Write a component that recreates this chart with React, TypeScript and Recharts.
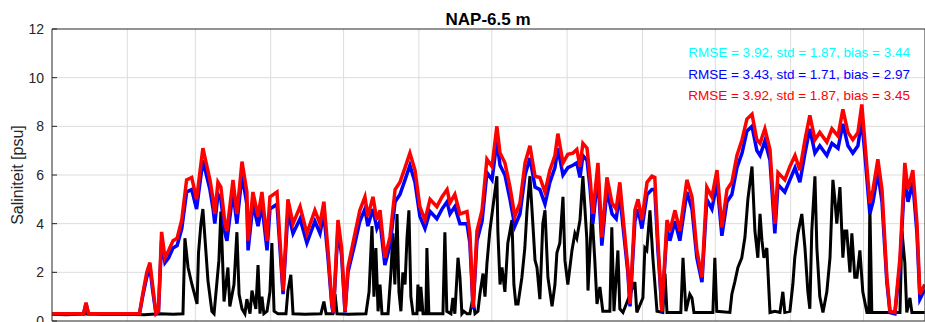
import React from 'react';
import { LineChart, Line, XAxis, YAxis, ReferenceLine } from 'recharts';

// day of year, month boundaries as in the reference grid
const monthTicks = [0, 31, 59, 90, 120, 151, 181, 212, 243, 273, 304, 334];
const salinityTicks = [0, 2, 4, 6, 8, 10, 12];
const dayDomain: [number, number] = [0, 359.3];

const statsText = [
    { color: '#00ffff', text: 'RMSE = 3.92, std = 1.87, bias = 3.44' },
    { color: '#0000ff', text: 'RMSE = 3.43, std = 1.71, bias = 2.97' },
    { color: '#ff0000', text: 'RMSE = 3.92, std = 1.87, bias = 3.45' },
];

// model output (day of year)
const modelDays = [
    0, 13, 14, 15, 36, 37.5, 39, 40.3, 41.5, 42.8,
    43.8, 45.1, 46.5, 48, 49.8, 51.5, 53.4, 55.4, 57.5, 59.5,
    62.1, 65, 66.3, 67, 68.3, 69.5, 71.2, 72, 74.5, 76.1,
    78.2, 80.2, 80.7, 82.7, 84.8, 86.4, 88.5, 89.7, 92.6, 95.1,
    97.1, 99.2, 102.1, 104.9, 108.2, 110.3, 111.9, 113.6, 115.2, 115.8,
    117.7, 119.2, 120.6, 121.8, 124.7, 126.7, 128.8, 130, 132.1, 133.7,
    135, 137, 139.1, 141.2, 143.2, 145.3, 147.3, 149.4, 151.4, 153.5,
    155.6, 158.4, 160.5, 162.6, 163.8, 165.8, 167.9, 170.8, 172, 173.3,
    174.9, 177, 179, 181.1, 183.1, 184.4, 186.4, 188.5, 190.5, 192.6,
    194.7, 196.7, 198.8, 200.8, 202.9, 204.9, 207, 208.2, 210.3, 212.3,
    214.4, 216, 217.3, 218.5, 220.2, 221.4, 222.6, 224.7, 226.3, 228.4,
    230.5, 232.2, 233.7, 235, 237, 237.9, 239.9, 241.2, 242.8, 244.9,
    246.9, 248.1, 249.4, 250.2, 251, 253.1, 254.3, 256.4, 258.4, 261.3,
    263.4, 265.4, 267.5, 269.5, 271.6, 273.7, 275.7, 277.8, 279.8, 281.9,
    284, 286, 288.1, 290.1, 291.4, 293.4, 295.5, 297.5, 298.8, 301.6,
    303.7, 305.8, 307.8, 309.9, 311.9, 314, 316, 318.9, 321, 323.5,
    325.5, 327.6, 329.6, 331.7, 333.3, 334.6, 336.6, 337.9, 339.9, 341.6,
    343.6, 344.9, 346.9, 349, 351, 352.3, 354.3, 356, 357.2, 359.2,
];

const blueValues = [
    0.3, 0.3, 0.7, 0.3, 0.3, 1.1, 1.8, 2.2, 1.2, 0.3,
    0.35, 3.3, 2.4, 2.6, 3.0, 3.1, 3.8, 5.3, 5.4, 4.6,
    6.6, 5.4, 4.6, 4.0, 5.2, 5.0, 3.6, 3.3, 5.3, 4.0,
    6.0, 4.8, 2.9, 4.8, 3.9, 4.8, 2.9, 4.6, 4.8, 1.1,
    4.5, 3.6, 4.2, 3.2, 4.1, 3.6, 4.4, 2.6, 0.6, 0.3,
    3.8, 2.7, 0.35, 2.0, 3.2, 4.1, 4.6, 3.9, 4.6, 3.8,
    4.1, 2.3, 3.1, 4.9, 5.2, 5.8, 6.4, 5.7, 4.3, 3.8,
    4.5, 4.2, 4.6, 4.9, 4.4, 4.7, 4.0, 4.0, 3.2, 0.5,
    3.3, 4.1, 6.1, 5.8, 7.4, 6.4, 6.0, 5.0, 3.9, 4.4,
    6.0, 6.7, 5.5, 5.4, 4.8, 5.7, 6.3, 7.1, 6.0, 6.3,
    6.4, 6.5, 5.9, 6.8, 6.6, 5.5, 4.0, 6.0, 3.1, 5.4,
    4.4, 4.2, 5.2, 3.9, 2.0, 0.6, 4.1, 4.6, 3.8, 5.2,
    5.4, 5.4, 2.9, 1.7, 0.35, 3.8, 3.3, 4.1, 3.3, 5.3,
    4.6, 2.6, 1.6, 5.0, 4.6, 5.7, 3.5, 4.9, 5.2, 6.3,
    6.9, 7.8, 8.0, 7.0, 6.8, 7.4, 6.6, 3.6, 5.6, 5.3,
    5.8, 6.3, 5.7, 6.9, 7.9, 6.9, 7.2, 6.8, 7.3, 7.1,
    8.1, 7.2, 6.9, 7.2, 8.3, 6.8, 4.4, 4.9, 6.1, 4.9,
    1.6, 0.35, 0.3, 2.3, 6.0, 4.9, 5.7, 3.6, 0.9, 1.3,
];

const redValues = [
    0.3, 0.3, 0.75, 0.3, 0.3, 1.2, 2.0, 2.4, 1.4, 0.3,
    0.4, 3.66, 2.6, 2.9, 3.3, 3.4, 4.15, 5.8, 5.9, 5.0,
    7.1, 5.8, 5.0, 4.4, 5.7, 5.5, 4.0, 3.7, 5.8, 4.4,
    6.55, 5.3, 3.3, 5.3, 4.3, 5.3, 3.3, 5.1, 5.3, 1.25,
    5.0, 4.0, 4.7, 3.6, 4.55, 4.0, 4.9, 2.9, 0.7, 0.35,
    4.15, 3.0, 0.4, 2.2, 3.6, 4.55, 5.1, 4.3, 5.1, 4.15,
    4.55, 2.6, 3.45, 5.4, 5.7, 6.3, 6.9, 6.2, 4.7, 4.15,
    5.0, 4.7, 5.1, 5.4, 4.85, 5.2, 4.4, 4.5, 3.6, 0.55,
    3.7, 4.55, 6.65, 6.35, 8.0, 6.9, 6.5, 5.5, 4.3, 4.85,
    6.5, 7.2, 5.95, 5.9, 5.3, 6.2, 6.8, 7.7, 6.5, 6.85,
    6.9, 7.05, 6.35, 7.3, 7.1, 5.95, 4.4, 6.5, 3.45, 5.9,
    4.85, 4.6, 5.7, 4.3, 2.2, 0.7, 4.55, 5.0, 4.15, 5.7,
    5.95, 5.9, 3.2, 1.9, 0.4, 4.15, 3.7, 4.55, 3.7, 5.8,
    5.1, 2.9, 1.8, 5.5, 5.1, 6.2, 3.85, 5.4, 5.7, 6.8,
    7.45, 8.3, 8.5, 7.45, 7.3, 7.9, 7.05, 4.0, 6.1, 5.8,
    6.35, 6.8, 6.2, 7.45, 8.45, 7.45, 7.75, 7.35, 7.9, 7.6,
    8.7, 7.75, 7.45, 7.75, 8.9, 7.3, 4.85, 5.4, 6.65, 5.4,
    1.8, 0.4, 0.35, 2.6, 6.5, 5.4, 6.2, 4.0, 1.1, 1.5,
];

// measurements: [day of year, salinity psu]
const observed: [number, number][] = [
    [0, 0.28], [6, 0.26], [14, 0.3], [22, 0.27], [30, 0.28], [38, 0.26], [44, 0.3], [50, 0.28],
    [53.9, 0.3], [54.7, 3.4], [56, 2.2], [57.6, 1.5], [59.7, 0.7], [60.3, 2.8], [61.3, 4.0], [62.1, 4.6],
    [64.2, 1.65], [65.8, 0.4], [66.7, 0.3], [68.7, 2.5], [69.5, 4.5], [70.8, 0.8], [72.4, 2.2], [73.2, 0.6],
    [74.9, 1.5], [76.1, 3.65], [77, 1.1], [78.2, 0.5], [79.4, 0.3], [80.2, 0.9], [81.5, 0.3], [82.3, 1.25],
    [83.9, 0.5], [84.8, 2.3], [85.6, 0.3], [86.4, 1.0], [87.2, 0.3], [88.5, 0.4], [89.7, 1.2], [90.5, 3.2],
    [91.4, 0.4], [93, 0.3], [96.3, 0.3], [97.1, 1.25], [98.3, 1.9], [99.2, 0.3], [104, 0.28], [110.7, 0.3],
    [111.9, 0.8], [112.8, 0.3], [115.6, 0.3], [116.5, 1.1], [117.3, 0.3], [122, 0.28], [129.2, 0.3], [130.5, 1.2],
    [131.7, 3.9], [132.5, 1.0], [133.3, 3.0], [134.2, 0.4], [135, 1.5], [135.8, 0.3], [138.3, 0.3], [139.5, 2.0],
    [140.3, 3.6], [141.1, 1.5], [142, 4.4], [142.8, 1.2], [143.6, 0.4], [144.4, 2.0], [145.3, 1.5], [146.1, 3.4],
    [146.9, 4.55], [147.7, 1.0], [148.6, 0.3], [150.2, 0.3], [150.6, 1.5], [151.4, 0.4], [151.8, 1.4], [152.7, 0.3],
    [153.9, 0.3], [154.3, 3.0], [155.1, 0.3], [160.9, 0.3], [161.7, 3.65], [162.5, 0.4], [164.2, 0.3], [165, 0.95],
    [165.8, 0.3], [167.1, 2.6], [167.9, 1.8], [168.7, 0.3], [169.5, 0.4], [170.8, 0.3], [172, 0.3], [173.2, 0.95],
    [174.1, 0.3], [175.3, 0.4], [176.1, 1.1], [177.4, 1.95], [178.2, 1.0], [179, 2.35], [180.2, 3.7], [181.5, 4.7],
    [183.1, 5.95], [183.5, 3.7], [184.4, 1.5], [185.2, 2.2], [186.4, 1.2], [187.6, 3.2], [189.3, 4.15], [190.1, 1.5],
    [190.9, 0.7], [191.8, 0.7], [193.4, 1.8], [194.6, 3.0], [195.5, 4.55], [196.7, 5.95], [197.9, 4.0], [198.8, 2.5],
    [199.6, 2.2], [200.8, 0.9], [202, 4.0], [202.9, 4.55], [204.1, 1.8], [205.8, 0.6], [207, 1.5], [207.8, 2.8],
    [209, 3.2], [210.3, 5.1], [211.1, 2.5], [212.3, 1.5], [214, 2.9], [215.2, 3.6], [216, 3.4], [217.3, 4.15],
    [218.5, 5.95], [220.1, 3.4], [220.6, 1.25], [222.2, 4.55], [223.4, 2.5], [224.3, 0.7], [225.5, 1.4], [226.7, 0.4],
    [228.8, 0.4], [229.6, 0.4], [230.4, 3.85], [231.3, 0.4], [232.9, 2.9], [233.7, 0.5], [235, 0.35], [239.9, 1.6],
    [240.7, 0.35], [243.2, 0.95], [244, 3.0], [244.8, 2.9], [246.1, 4.55], [247.3, 2.6], [249, 0.4], [251.4, 0.35],
    [252.3, 1.95], [253.1, 0.35], [258.8, 0.35], [259.7, 2.6], [260.9, 0.4], [262.5, 1.1], [263.4, 0.95], [264.2, 0.35],
    [272, 0.35], [272.8, 2.6], [273.6, 0.4], [279, 0.35], [279.8, 1.1], [281, 1.6], [282.3, 2.2], [283.9, 2.6],
    [285.2, 3.45], [286.4, 5.0], [288.1, 6.35], [289.3, 3.7], [290.5, 2.6], [291.4, 4.4], [292.2, 3.3], [293, 2.6],
    [294.2, 3.0], [295.5, 0.35], [297.5, 0.4], [299.6, 0.35], [300.8, 1.2], [301.6, 0.35], [303.7, 0.4], [304.9, 1.5],
    [305.7, 2.6], [307, 3.6], [308.6, 4.4], [309.9, 3.0], [311.1, 1.2], [311.9, 0.5], [312.7, 3.7], [314, 5.95],
    [314.8, 3.0], [316, 1.0], [317.3, 0.35], [318.9, 1.2], [320.2, 2.6], [321.4, 5.8], [322.2, 5.0], [323, 4.0],
    [324.3, 5.5], [325.5, 2.6], [326.3, 3.7], [327.1, 3.7], [328.4, 2.0], [329.2, 3.6], [330.4, 1.8], [331.3, 1.8],
    [332.5, 2.9], [333.7, 1.2], [335.4, 0.35], [336.2, 0.35], [336.6, 4.8], [337.4, 0.35], [343, 0.35], [349, 0.35],
    [349.8, 3.7], [351, 2.4], [351.8, 0.35], [353.1, 0.95], [353.9, 0.35], [359.2, 0.35],
];

const axisColor = '#262626';
const gridColor = '#dcdcdc';
const font = '"Liberation Sans", Arial, Helvetica, sans-serif';

export default function App() {
    const obsData = observed.map(([day, value]) => ({ day, value }));
    const blueData = modelDays.map((day, i) => ({ day, value: blueValues[i] }));
    const redData = modelDays.map((day, i) => ({ day, value: redValues[i] }));

    return (
        <div style={{ position: 'relative', width: 925, height: 322, fontFamily: font, background: '#fff' }}>
            <style>{'body{margin:0}'}</style>
            <LineChart width={925} height={322} margin={{ top: 29, right: 0, bottom: 1, left: 0 }}>
                <XAxis
                    dataKey="day"
                    type="number"
                    domain={dayDomain}
                    ticks={monthTicks}
                    allowDataOverflow
                    height={1}
                    mirror
                    tick={false}
                    tickSize={5}
                    stroke={axisColor}
                />
                <XAxis
                    xAxisId="top"
                    orientation="top"
                    dataKey="day"
                    type="number"
                    domain={dayDomain}
                    ticks={monthTicks}
                    allowDataOverflow
                    height={1}
                    mirror
                    tick={false}
                    tickSize={5}
                    stroke={axisColor}
                />
                <YAxis
                    type="number"
                    domain={[0, 12]}
                    ticks={salinityTicks}
                    interval={0}
                    width={52}
                    tickSize={-5}
                    tickMargin={13}
                    stroke={axisColor}
                    tick={{ fill: axisColor, fontSize: 14, fontFamily: font }}
                />
                <YAxis
                    yAxisId="right"
                    orientation="right"
                    type="number"
                    domain={[0, 12]}
                    ticks={salinityTicks}
                    width={1}
                    mirror
                    tick={false}
                    tickSize={5}
                    stroke={axisColor}
                />
                {monthTicks.slice(1).map((d) => (
                    <ReferenceLine key={'v' + d} x={d} stroke={gridColor} strokeWidth={1} />
                ))}
                {salinityTicks.slice(1, -1).map((v) => (
                    <ReferenceLine key={'h' + v} y={v} stroke={gridColor} strokeWidth={1} />
                ))}
                <Line
                    data={obsData}
                    dataKey="value"
                    type="linear"
                    stroke="#000000"
                    strokeWidth={3}
                    dot={false}
                    isAnimationActive={false}
                />
                <Line
                    data={blueData}
                    dataKey="value"
                    type="linear"
                    stroke="#0000ff"
                    strokeWidth={3.5}
                    dot={false}
                    isAnimationActive={false}
                />
                <Line
                    data={redData}
                    dataKey="value"
                    type="linear"
                    stroke="#ff0000"
                    strokeWidth={3.5}
                    dot={false}
                    isAnimationActive={false}
                />
            </LineChart>

            <div
                style={{
                    position: 'absolute',
                    top: 11,
                    left: 52,
                    width: 872,
                    textAlign: 'center',
                    fontSize: 17,
                    lineHeight: '17px',
                    fontWeight: 'bold',
                    color: '#000',
                }}
            >
                NAP-6.5 m
            </div>

            <div
                style={{
                    position: 'absolute',
                    left: 18,
                    top: 175,
                    transform: 'translate(-50%, -50%) rotate(-90deg)',
                    whiteSpace: 'nowrap',
                    fontSize: 16,
                    color: axisColor,
                }}
            >
                Saliniteit [psu]
            </div>

            {statsText.map((s, i) => (
                <div
                    key={i}
                    style={{
                        position: 'absolute',
                        right: 15,
                        top: 46 + i * 21.7,
                        fontSize: 13.5,
                        lineHeight: '14px',
                        color: s.color,
                        whiteSpace: 'nowrap',
                    }}
                >
                    {s.text}
                </div>
            ))}
        </div>
    );
}
